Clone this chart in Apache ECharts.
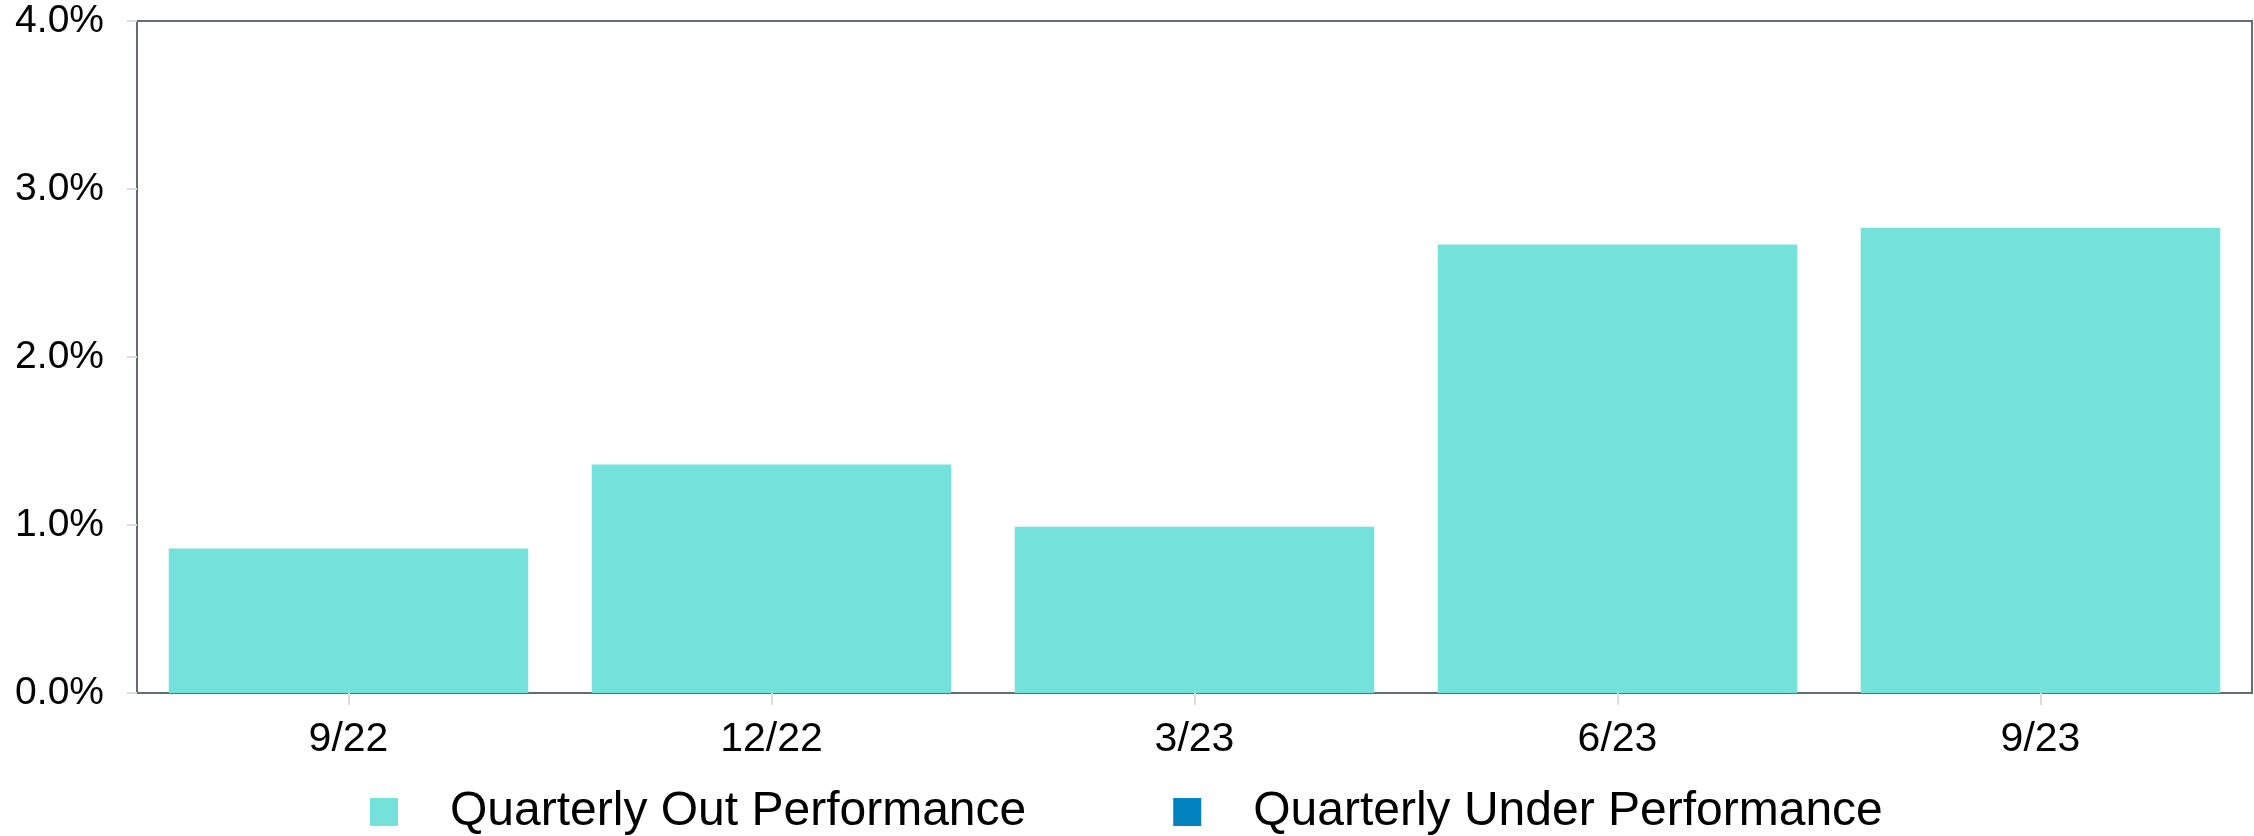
<!DOCTYPE html>
<html>
<head>
<meta charset="utf-8">
<script src="https://cdn.jsdelivr.net/npm/echarts@6/dist/echarts.min.js"></script>
<style>
  html, body { margin: 0; padding: 0; background: #ffffff; }
  #chart { width: 2254px; height: 836px; }
</style>
</head>
<body>
<div id="chart"></div>
<script>
const categories = ['9/22', '12/22', '3/23', '6/23', '9/23'];
const outPerformance = [0.86, 1.36, 0.99, 2.67, 2.77];
const underPerformance = ['-', '-', '-', '-', '-'];
const yTicks = { min: 0, max: 4, interval: 1 };
const seriesNames = ['Quarterly Out Performance', 'Quarterly Under Performance'];

const FONT = '"Liberation Sans", Arial, Helvetica, sans-serif';
const chart = echarts.init(document.getElementById('chart'), null, { renderer: 'canvas' });

chart.setOption({
  animation: false,
  backgroundColor: '#ffffff',
  color: ['#74e2da', '#0283c0'],
  grid: {
    left: 137, right: 2, top: 21, bottom: 143,
    show: true, borderColor: '#5f6d7a', borderWidth: 2, backgroundColor: 'transparent'
  },
  legend: {
    left: 365,
    top: 782,
    itemWidth: 28,
    itemHeight: 28,
    itemGap: 147,
    icon: 'rect',
    textStyle: {
      fontFamily: FONT, fontSize: 48, color: '#000000',
      padding: [0, 0, 0, 47], lineHeight: 50
    },
    data: seriesNames
  },
  xAxis: {
    type: 'category',
    data: categories,
    axisLine: { show: true, lineStyle: { color: '#5f6d7a', width: 2 } },
    axisTick: { show: true, alignWithLabel: true, length: 12, lineStyle: { color: '#dddddd', width: 2 } },
    axisLabel: { fontFamily: FONT, fontSize: 41, color: '#000000', margin: 26 },
    splitLine: { show: false }
  },
  yAxis: {
    type: 'value',
    min: yTicks.min, max: yTicks.max, interval: yTicks.interval,
    axisLine: { show: true, lineStyle: { color: '#5f6d7a', width: 2 } },
    axisTick: { show: true, length: 10, lineStyle: { color: '#dddddd', width: 2 } },
    axisLabel: {
      fontFamily: FONT, fontSize: 39, color: '#000000', margin: 33,
      formatter: v => v.toFixed(1) + '%'
    },
    splitLine: { show: false }
  },
  series: [
    {
      name: seriesNames[0], type: 'bar', stack: 'perf',
      barCategoryGap: '15%',
      data: outPerformance
    },
    {
      name: seriesNames[1], type: 'bar', stack: 'perf',
      barCategoryGap: '15%',
      data: underPerformance
    }
  ]
});
</script>
</body>
</html>
